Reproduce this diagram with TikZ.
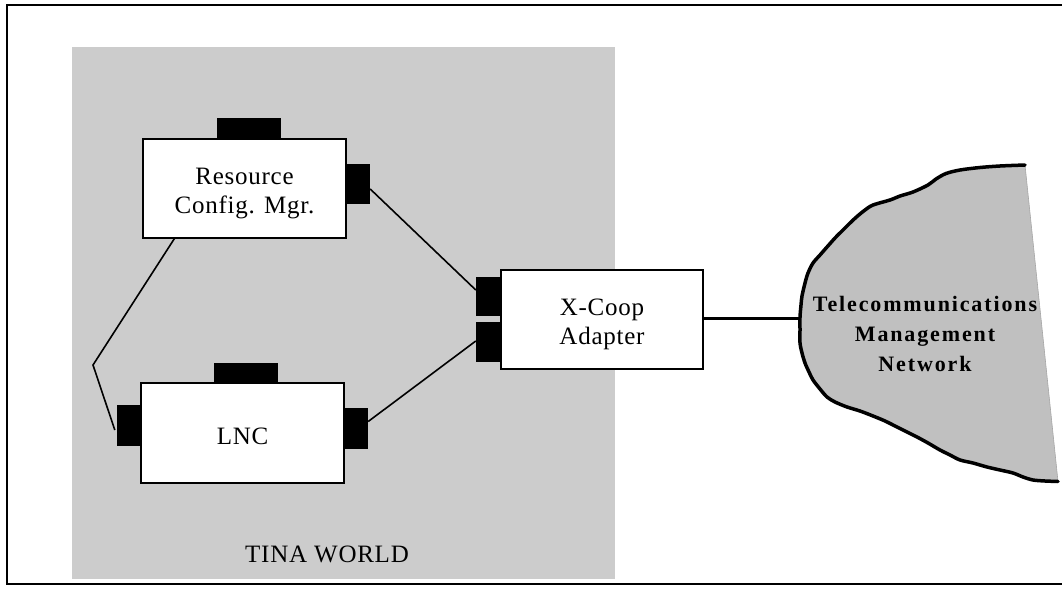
\documentclass[tikz,border=0pt]{standalone}
\usepackage{fontspec}
\setmainfont{Liberation Serif}
\usetikzlibrary{calc}
\definecolor{tinagray}{RGB}{204,204,204}
\definecolor{cloudgray}{RGB}{192,192,192}
\newcommand\fstrut[1]{\rule{0pt}{#1}}
\begin{document}
\begin{tikzpicture}[x=1pt,y=-1pt,
  region/.style={fill=tinagray, draw=none, inner sep=0pt},
  box/.style={draw, fill=white, line width=1.2pt, inner sep=0pt, align=center,
    font={\addfontfeatures{LetterSpace=3}\fontsize{25}{29}\selectfont}},
  port/.style={fill=black, draw=none, inner sep=0pt},
  wire/.style={line width=1.6pt},
  thickwire/.style={line width=3pt},
  label/.style={inner sep=0pt, align=center,
    font={\addfontfeatures{LetterSpace=3}\fontsize{25}{29}\selectfont}},
  cloudtext/.style={inner sep=0pt, align=center,
    font={\bfseries\addfontfeatures{LetterSpace=8.5}\fontsize{22}{30}\selectfont}}
]
\useasboundingbox (0,0) rectangle (1062,607);
% frame
\draw[line width=1.6pt] (1062,5) -- (7,5) -- (7,584) -- (1062,584);
% TINA world region
\node[region, minimum width=543pt, minimum height=532pt] (tina) at (343.5,313) {};
\node[label, anchor=base] (tinalbl) at (327,562) {TINA WORLD};
% boxes
\node[box, minimum width=203pt, minimum height=99pt] (rcm) at (244.5,188.5) {\fstrut{25.4pt}Resource\\Config. Mgr.};
\node[port, minimum width=64pt, minimum height=21pt] (rcmT) at (249,128.5) {};
\node[port, minimum width=24pt, minimum height=40pt] (rcmR) at (358,184) {};
\node[box, minimum width=203pt, minimum height=100pt] (lnc) at (242.5,433) {\fstrut{24pt}LNC};
\node[port, minimum width=64pt, minimum height=20pt] (lncT) at (246,373) {};
\node[port, minimum width=24pt, minimum height=41pt] (lncL) at (129,425.5) {};
\node[port, minimum width=24pt, minimum height=41pt] (lncR) at (356,428.5) {};
\node[box, minimum width=202pt, minimum height=99pt] (xc) at (602,319.5) {\fstrut{25.4pt}X-Coop\\Adapter};
\node[port, minimum width=25pt, minimum height=39pt] (xcU) at (488.5,296.5) {};
\node[port, minimum width=25pt, minimum height=40pt] (xcL) at (488.5,342) {};
% cloud
\coordinate (cloudL) at (800,318);
\fill[cloudgray] plot[smooth, tension=0.5] coordinates {
 (1025,165) (1000,166) (980,167.5) (960,170) (946,173.5) (936,179) (928,185) (913,192)
 (900,196) (890,200) (873,205) (865,210) (857,216.5) (850,223) (843,230) (835,238)
 (827,247) (820,255) (813,263) (808,273) (805,283) (802,296) (801,305) (800,317)
 (800,330) (800,343) (802,353) (805,363) (809,372) (813,380) (820,389) (827,397)
 (835,402) (847,407) (860,411) (873,416) (885,421) (897,427) (907,432) (917,437)
 (928,443) (940,450) (950,455) (960,460) (973,463) (987,467) (1000,470) (1013,473)
 (1023,477) (1033,480) (1045,481) (1058,481.5)} -- cycle;
\draw[gray!70, line width=0.6pt] (1025,165) -- (1058,481.5);
\draw[line width=3.5pt, line cap=round, line join=round] plot[smooth, tension=0.5] coordinates {
 (1025,165) (1000,166) (980,167.5) (960,170) (946,173.5) (936,179) (928,185) (913,192)
 (900,196) (890,200) (873,205) (865,210) (857,216.5) (850,223) (843,230) (835,238)
 (827,247) (820,255) (813,263) (808,273) (805,283) (802,296) (801,305) (800,317)
 (800,330) (800,343) (802,353) (805,363) (809,372) (813,380) (820,389) (827,397)
 (835,402) (847,407) (860,411) (873,416) (885,421) (897,427) (907,432) (917,437)
 (928,443) (940,450) (950,455) (960,460) (973,463) (987,467) (1000,470) (1013,473)
 (1023,477) (1033,480) (1045,481) (1058,481.5)};
\node[cloudtext] (tmn) at (925,334) {Telecommunications\\Management\\Network};
% connectors
\coordinate (bend) at (93,365);
\draw[wire] ($(rcm.south west)+(32,0)$) -- (bend) -- ($(lncL.west)+(-2,4.5)$);
\draw[wire] ($(rcmR.east)+(0,5)$) -- ($(xcU.west)+(0,-6.5)$);
\draw[wire] ($(lncR.east)+(0,-7)$) -- ($(xcL.west)+(0,-1)$);
\draw[thickwire] (xc.east |- cloudL) -- (cloudL);
\end{tikzpicture}
\end{document}
